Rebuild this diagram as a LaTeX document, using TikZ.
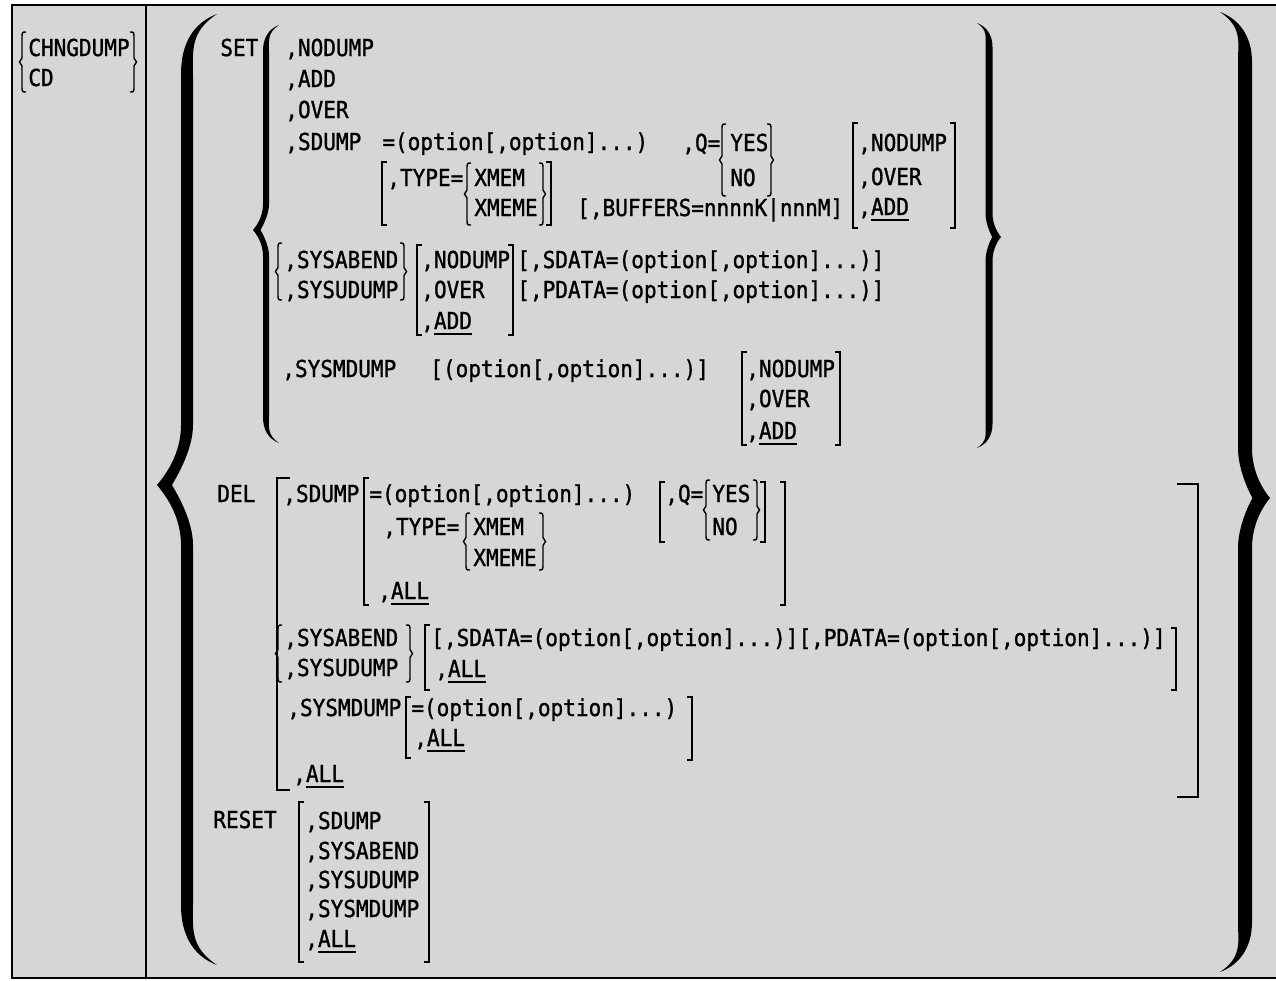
\documentclass[tikz,border=0pt]{standalone}
\usepackage{fontspec}
\newfontfamily\dumpfont[FakeStretch=0.9,FakeBold=1.2]{DejaVu Sans Mono}
\newsavebox\dfltbox
% default value, underlined
\newcommand{\dflt}[1]{\sbox\dfltbox{#1}\rlap{\rule[-3.4pt]{\wd\dfltbox}{0.9pt}}\usebox\dfltbox}
% square bracket: x, top, bottom, tick (+ for [, - for ])
\newcommand{\sqbr}[4]{\draw[brk] ({#1+#4},#2) -- (#1,#2) -- (#1,#3) -- ({#1+#4},#3);}
% thin brace: x, top, bottom, side (+1 for {, -1 for })
\newcommand{\thinbr}[4]{\draw[brk] ({#1+#4*4},#2) .. controls (#1,#2) .. (#1,{#2+7})
  -- (#1,{(#2+#3)/2-4}) -- ({#1-#4*2.5},{(#2+#3)/2}) -- (#1,{(#2+#3)/2+4})
  -- (#1,{#3-7}) .. controls (#1,#3) .. ({#1+#4*4},#3);}
% heavy brace: x, top, tip, bottom, dir (-1 for {, 1 for }), half width, reach
\newcommand{\fatbr}[7]{%
  \pgfmathsetmacro{\fx}{#1}\pgfmathsetmacro{\fd}{#5}%
  \pgfmathsetmacro{\fw}{#6}\pgfmathsetmacro{\fr}{#7}%
  \fill ({\fx-\fd*\fr},#2)
    .. controls ({\fx-\fd*0.2*\fr},{#2+0.3*\fr}) and ({\fx+\fd*\fw},{#2+\fr}) .. ({\fx+\fd*\fw},{#2+2*\fr})
    -- ({\fx+\fd*\fw},{#3-2*\fr})
    .. controls ({\fx+\fd*\fw},{#3-\fr}) and ({\fx+\fd*0.75*\fr},{#3-0.3*\fr}) .. ({\fx+\fd*\fr},#3)
    .. controls ({\fx+\fd*0.75*\fr},{#3+0.3*\fr}) and ({\fx+\fd*\fw},{#3+\fr}) .. ({\fx+\fd*\fw},{#3+2*\fr})
    -- ({\fx+\fd*\fw},{#4-2*\fr})
    .. controls ({\fx+\fd*\fw},{#4-\fr}) and ({\fx-\fd*0.2*\fr},{#4-0.3*\fr}) .. ({\fx-\fd*\fr},#4)
    .. controls ({\fx-\fd*0.1*\fr},{#4-0.6*\fr}) and ({\fx-\fd*\fw},{#4-1.2*\fr}) .. ({\fx-\fd*\fw},{#4-2*\fr})
    -- ({\fx-\fd*\fw},{#3+2*\fr})
    .. controls ({\fx-\fd*\fw},{#3+1.2*\fr}) and ({\fx+\fd*(0.8*\fr-2.5*\fw)},{#3+0.35*\fr}) .. ({\fx+\fd*(\fr-2.5*\fw)},#3)
    .. controls ({\fx+\fd*(0.8*\fr-2.5*\fw)},{#3-0.35*\fr}) and ({\fx-\fd*\fw},{#3-1.2*\fr}) .. ({\fx-\fd*\fw},{#3-2*\fr})
    -- ({\fx-\fd*\fw},{#2+2*\fr})
    .. controls ({\fx-\fd*\fw},{#2+1.2*\fr}) and ({\fx-\fd*0.1*\fr},{#2+0.6*\fr}) .. ({\fx-\fd*\fr},#2)
    -- cycle;}

\begin{document}
\begin{tikzpicture}[x=0.02cm, y=-0.02cm,
  kw/.style={anchor=base west, inner sep=0pt, font=\dumpfont\fontsize{13.3}{16}\selectfont},
  brk/.style={line width=0.8pt},
  frm/.style={line width=1.2pt},
]
\useasboundingbox (0,0) rectangle (1276,981);
% frame
\fill[black!16] (12,5) rectangle (1290,978);
\draw[frm] (1290,5) -- (12,5) -- (12,978) -- (1290,978);
\draw[frm] (146,5) -- (146,978);

% command name
\thinbr{22}{32}{92}{1}
\node[kw] (chng) at (28,56) {CHNGDUMP};
\node[kw] (cd) at (28,86) {CD};
\thinbr{134}{32}{92}{-1}

% outer braces
\fatbr{187}{14}{485}{965}{-1}{6}{30}
\fatbr{1245}{12}{498}{972}{1}{7}{25}

% SET
\node[kw] (set) at (220,56) {SET};
\fatbr{266}{25}{230}{443}{-1}{3}{13}
\fatbr{989}{23}{237}{448}{1}{3.5}{12}
\node[kw] (setnodump) at (285,56) {,NODUMP};
\node[kw] (setadd) at (285,87) {,ADD};
\node[kw] (setover) at (285,118) {,OVER};
\node[kw] (setsdump) at (285,150) {,SDUMP};
\node[kw] (setopt) at (382,150) {=(option[,option]...)};
\node[kw] (setq) at (682,151) {,Q=};
\thinbr{722}{124}{196}{1}
\node[kw] (setyes) at (730,151) {YES};
\node[kw] (setno) at (730,186) {NO};
\thinbr{771}{124}{196}{-1}
\sqbr{382}{162}{225}{5}
\node[kw] (settype) at (387,186) {,TYPE=};
\thinbr{467}{163}{225}{1}
\node[kw] (setxmem) at (474,186) {XMEM};
\node[kw] (setxmeme) at (474,216) {XMEME};
\thinbr{543}{163}{225}{-1}
\sqbr{551}{162}{225}{-5}
\node[kw] (setbuf) at (577,216) {[,BUFFERS=nnnnK|nnnM]};
\sqbr{853}{123}{228}{5}
\node[kw] (setmode1) at (858,151) {,NODUMP};
\node[kw] (setmode2) at (858,185) {,OVER};
\node[kw] (setmode3) at (858,215) {,\dflt{ADD}};
\sqbr{955}{123}{228}{-5}

\thinbr{278}{243}{300}{1}
\node[kw] (setabend) at (284,268) {,SYSABEND};
\node[kw] (setudump) at (284,298) {,SYSUDUMP};
\thinbr{404}{243}{300}{-1}
\sqbr{417}{245}{335}{5}
\node[kw] (setsys1) at (421,268) {,NODUMP};
\node[kw] (setsys2) at (421,298) {,OVER};
\node[kw] (setsys3) at (421,329) {,\dflt{ADD}};
\sqbr{513}{245}{335}{-5}
\node[kw] (setsdata) at (517,268) {[,SDATA=(option[,option]...)]};
\node[kw] (setpdata) at (517,298) {[,PDATA=(option[,option]...)]};

\node[kw] (setmdump) at (282,377) {,SYSMDUMP};
\node[kw] (setmopt) at (430,377) {[(option[,option]...)]};
\sqbr{742}{352}{445}{5}
\node[kw] (setm1) at (746,377) {,NODUMP};
\node[kw] (setm2) at (746,407) {,OVER};
\node[kw] (setm3) at (746,439) {,\dflt{ADD}};
\sqbr{840}{352}{445}{-5}

% DEL
\node[kw] (del) at (217,502) {DEL};
\sqbr{277}{478}{790}{13}
\sqbr{1198}{484}{797}{-21}
\node[kw] (delsdump) at (283,502) {,SDUMP};
\sqbr{364}{478}{605}{5}
\node[kw] (delopt) at (369,502) {=(option[,option]...)};
\node[kw] (deltype) at (383,535) {,TYPE=};
\thinbr{466}{513}{570}{1}
\node[kw] (delxmem) at (473,535) {XMEM};
\node[kw] (delxmeme) at (473,566) {XMEME};
\thinbr{543}{513}{570}{-1}
\node[kw] (delall1) at (378,599) {,\dflt{ALL}};
\sqbr{785}{482}{605}{-5}
\sqbr{660}{482}{542}{5}
\node[kw] (delq) at (665,502) {,Q=};
\thinbr{706}{480}{540}{1}
\node[kw] (delyes) at (712,502) {YES};
\node[kw] (delno) at (712,535) {NO};
\thinbr{757}{480}{540}{-1}
\sqbr{765}{482}{542}{-5}

\thinbr{278}{625}{682}{1}
\node[kw] (delabend) at (284,646) {,SYSABEND};
\node[kw] (deludump) at (284,676) {,SYSUDUMP};
\thinbr{410}{625}{682}{-1}
\sqbr{425}{625}{690}{5}
\node[kw] (deldata) at (431,646) {[,SDATA=(option[,option]...)][,PDATA=(option[,option]...)]};
\node[kw] (delall2) at (435,677) {,\dflt{ALL}};
\sqbr{1176}{628}{690}{-5}
\node[kw] (delmdump) at (287,716) {,SYSMDUMP};
\sqbr{406}{697}{758}{5}
\node[kw] (delmopt) at (411,716) {=(option[,option]...)};
\node[kw] (delall3) at (414,746) {,\dflt{ALL}};
\sqbr{692}{697}{760}{-5}
\node[kw] (delall4) at (293,782) {,\dflt{ALL}};

% RESET
\node[kw] (reset) at (213,828) {RESET};
\sqbr{299}{802}{962}{5}
\node[kw] (rsdump) at (305,829) {,SDUMP};
\node[kw] (rabend) at (305,859) {,SYSABEND};
\node[kw] (rudump) at (305,888) {,SYSUDUMP};
\node[kw] (rmdump) at (305,917) {,SYSMDUMP};
\node[kw] (rall) at (305,947) {,\dflt{ALL}};
\sqbr{429}{802}{962}{-5}
\end{tikzpicture}
\end{document}
